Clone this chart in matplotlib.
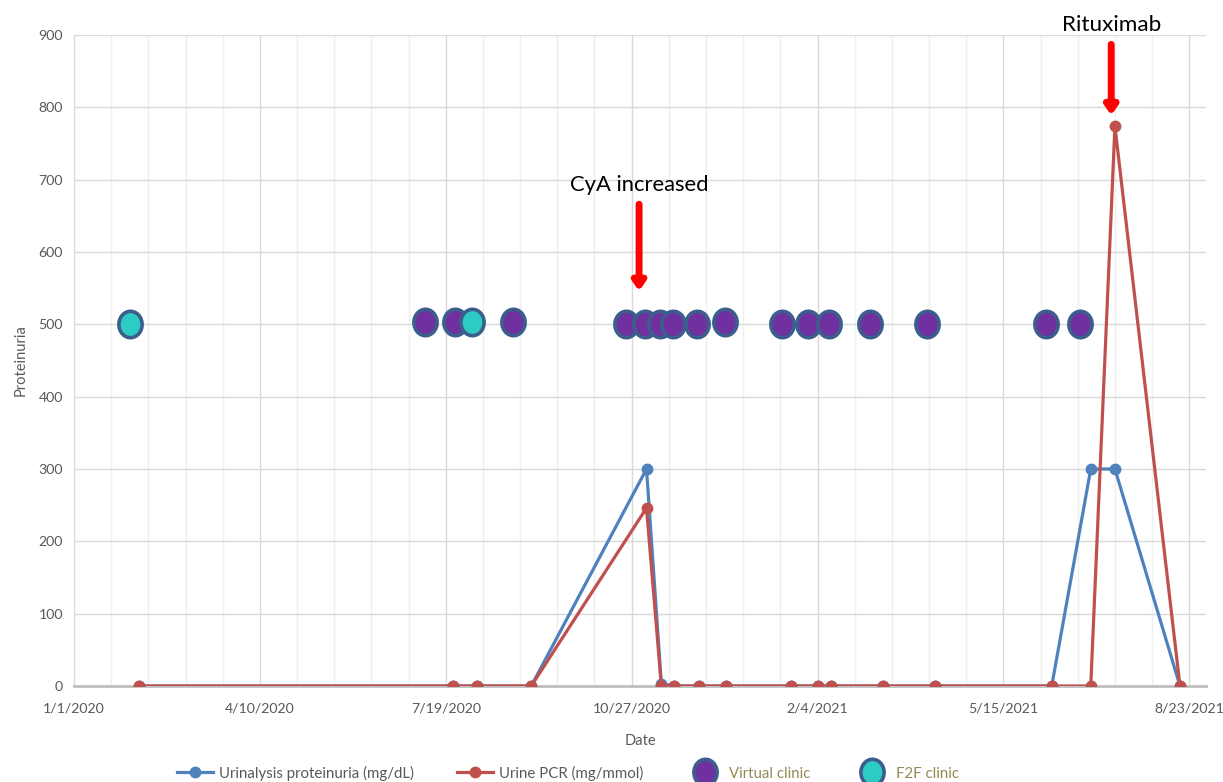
import matplotlib
matplotlib.use("Agg")
import matplotlib.pyplot as plt
from matplotlib.path import Path
from matplotlib.lines import Line2D
import pandas as pd
import numpy as np

plt.rcParams['font.family'] = ['Lato', 'DejaVu Sans']

# ---- data ----
lab_dates = ["2020-02-05", "2020-07-23", "2020-08-05", "2020-09-03", "2020-11-04",
             "2020-11-12", "2020-11-19", "2020-12-02", "2020-12-17", "2021-01-21",
             "2021-02-04", "2021-02-11", "2021-03-11", "2021-04-08", "2021-06-10",
             "2021-07-01", "2021-07-14", "2021-08-18"]
urinalysis = [0, 0, 0, 0, 300, 3, 0, 0, 0, 0, 0, 0, 0, 0, 0, 300, 300, 0]
urine_pcr = [0, 0, 0, 0, 246, 0, 0, 0, 0, 0, 0, 0, 0, 0, 0, 0, 774, 0]

virtual_dates = ["2020-07-08", "2020-07-24", "2020-08-24", "2020-10-24", "2020-11-03",
                 "2020-11-11", "2020-11-18", "2020-12-01", "2020-12-16", "2021-01-16",
                 "2021-01-30", "2021-02-10", "2021-03-04", "2021-04-04", "2021-06-07",
                 "2021-06-25"]
virtual_vals = [503, 503, 503, 500, 500, 500, 500, 500, 503, 500, 500, 500, 500, 500, 500, 500]
f2f_dates = ["2020-01-31", "2020-08-02"]
f2f_vals = [500, 503]

tick_dates = ["2020-01-01", "2020-04-10", "2020-07-19", "2020-10-27",
              "2021-02-04", "2021-05-15", "2021-08-23"]
tick_labels = ["1/1/2020", "4/10/2020", "7/19/2020", "10/27/2020",
               "2/4/2021", "5/15/2021", "8/23/2021"]

# ---- figure ----
fig = plt.figure(figsize=(12.23, 7.82), dpi=100)
ax = fig.add_axes([74/1223, 1-686/782, (1206-74)/1223, (686-35)/782])

blue = '#4F81BD'
red = '#C0504D'
edge = '#3B5E8C'
purple = '#7030A0'
cyan = '#2CCCC4'
gray_txt = '#595959'

ld = pd.to_datetime(lab_dates)
ax.plot(ld, urinalysis, color=blue, lw=2.3, marker='o', ms=7.5, zorder=3)
ax.plot(ld, urine_pcr, color=red, lw=2.3, marker='o', ms=7.5, zorder=4)

# elliptical marker
circ = Path.unit_circle()
ell = Path(circ.vertices * np.array([0.88, 1.0]), circ.codes)

ax.plot(pd.to_datetime(virtual_dates), virtual_vals, ls='none', marker=ell, ms=19,
        mfc=purple, mec=edge, mew=2.6, zorder=5)
ax.plot(pd.to_datetime(f2f_dates), f2f_vals, ls='none', marker=ell, ms=19,
        mfc=cyan, mec=edge, mew=2.6, zorder=5)

start = pd.Timestamp("2020-01-01")
ax.set_xlim(start, start + pd.Timedelta(days=609))
ax.set_ylim(0, 900)

ax.set_xticks(pd.to_datetime(tick_dates))
ax.set_xticklabels(tick_labels)
minor = [start + pd.Timedelta(days=int(d)) for d in range(0, 610, 20)]
ax.set_xticks(minor, minor=True)
ax.set_yticks(range(0, 901, 100))

ax.grid(True, which='major', axis='both', color='#D9D9D9', lw=1.0, zorder=0)
ax.grid(True, which='minor', axis='x', color='#EFEFEF', lw=1.0, zorder=0)
ax.set_axisbelow(True)

for s in ['top', 'right']:
    ax.spines[s].set_visible(False)
ax.spines['left'].set_color('#D9D9D9')
ax.spines['bottom'].set_color('#BFBFBF')
ax.spines['bottom'].set_linewidth(2)
ax.tick_params(axis='both', which='both', length=0, colors=gray_txt, labelsize=10.2, pad=8)
ax.tick_params(axis='x', pad=12)

ax.set_xlabel("Date", color=gray_txt, fontsize=10.5, labelpad=14)
ax.set_ylabel("Proteinuria", color=gray_txt, fontsize=10.5, labelpad=8)

# annotations
cya_x = pd.Timestamp("2020-10-31")
ax.annotate("", xy=(cya_x, 546), xytext=(cya_x, 666),
            arrowprops=dict(arrowstyle='-|>,head_width=0.35,head_length=0.5',
                            color='red', lw=5, shrinkA=0, shrinkB=0), zorder=6)
ax.text(cya_x, 693, "CyA increased", ha='center', va='center', fontsize=15.8, color='black')

rit_x = pd.Timestamp("2021-07-12")
ax.annotate("", xy=(rit_x, 789), xytext=(rit_x, 887),
            arrowprops=dict(arrowstyle='-|>,head_width=0.35,head_length=0.5',
                            color='red', lw=5, shrinkA=0, shrinkB=0),
            zorder=6, annotation_clip=False)
ax.text(rit_x, 914, "Rituximab", ha='center', va='center', fontsize=16.2,
        color='black', clip_on=False)

# legend
handles = [
    Line2D([], [], color=blue, lw=2.3, marker='o', ms=7.5),
    Line2D([], [], color=red, lw=2.3, marker='o', ms=7.5),
    Line2D([], [], ls='none', marker=ell, ms=19, mfc=purple, mec=edge, mew=2.6),
    Line2D([], [], ls='none', marker=ell, ms=19, mfc=cyan, mec=edge, mew=2.6),
]
labels = ["Urinalysis proteinuria (mg/dL)", "Urine PCR (mg/mmol)",
          "Virtual clinic", "F2F clinic"]
leg = fig.legend(handles, labels, ncol=4, loc='center', bbox_to_anchor=(568/1223, 1-773/782),
                 frameon=False, fontsize=10.8, handlelength=2.4, columnspacing=2.9,
                 handletextpad=0.4)
cols = [gray_txt, gray_txt, '#948A54', '#948A54']
for t, c in zip(leg.get_texts(), cols):
    t.set_color(c)

fig.savefig("out.png", dpi=100)
